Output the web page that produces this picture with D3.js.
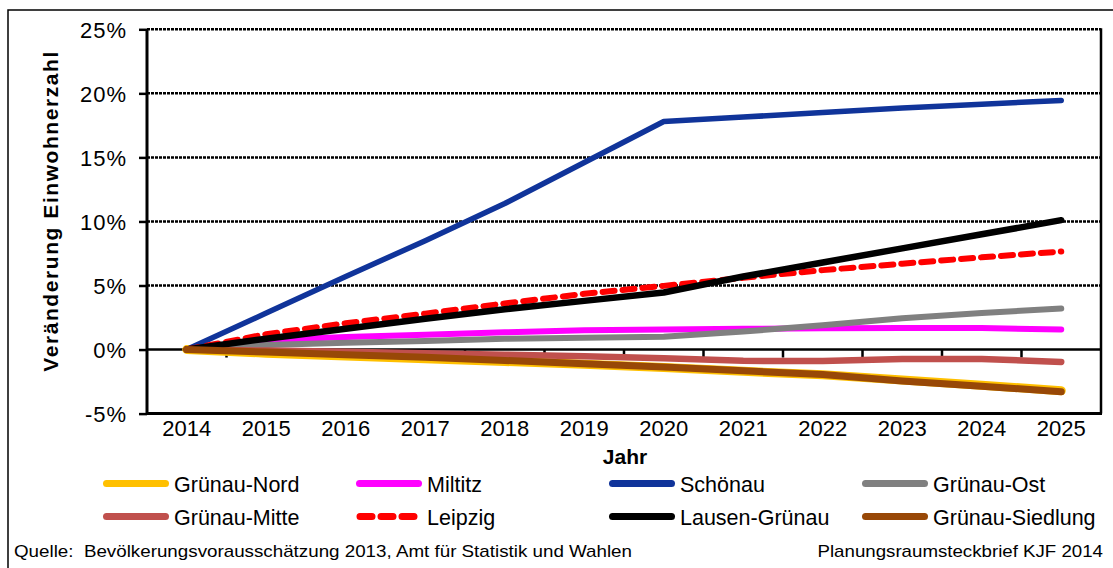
<!DOCTYPE html>
<html><head><meta charset="utf-8">
<script src="https://cdn.jsdelivr.net/npm/d3@7"></script>
<style>
html,body{margin:0;padding:0;background:#fff;}
svg{display:block;font-family:"Liberation Sans",Arial,sans-serif;}
</style></head>
<body><svg id="chart" width="1113" height="568"></svg>
<script>
const years = ["2014","2015","2016","2017","2018","2019","2020","2021","2022","2023","2024","2025"];
const yTicks = [-5,0,5,10,15,20,25];
const seriesNames = ["Grünau-Nord","Miltitz","Schönau","Grünau-Ost","Grünau-Mitte","Leipzig","Lausen-Grünau","Grünau-Siedlung"];
const gruenauNord     = [0,-0.28,-0.5,-0.72,-0.93,-1.15,-1.4,-1.7,-1.97,-2.38,-2.78,-3.22];
const miltitz         = [0,0.72,0.98,1.15,1.35,1.5,1.56,1.62,1.66,1.68,1.68,1.56];
const schoenau        = [0,2.85,5.7,8.5,11.4,14.6,17.8,18.15,18.5,18.85,19.15,19.45];
const gruenauOst      = [0,0.35,0.53,0.66,0.84,0.92,1.0,1.4,1.9,2.45,2.85,3.2];
const gruenauMitte    = [0,-0.08,-0.17,-0.28,-0.4,-0.53,-0.68,-0.88,-0.9,-0.74,-0.74,-0.97];
const leipzig         = [0,1.2,2.05,2.8,3.6,4.35,4.97,5.6,6.2,6.7,7.2,7.65];
const lausenGruenau   = [0,0.85,1.62,2.4,3.15,3.8,4.45,5.7,6.8,7.9,9.0,10.1];
const gruenauSiedlung = [0,-0.2,-0.4,-0.6,-0.85,-1.1,-1.36,-1.66,-1.95,-2.45,-2.86,-3.3];
const seriesValues = [gruenauNord,miltitz,schoenau,gruenauOst,gruenauMitte,leipzig,lausenGruenau,gruenauSiedlung];

const colors = ["#FFC000","#FF00FF","#10349A","#808080","#C0504D","#FF0000","#000000","#984807"];
const widths = [9,6,5.5,6,6.5,6,6.5,7];
const dashes = [null,null,null,null,null,"12,8",null,null];

const svg = d3.select("#chart");
const font = '"Liberation Sans",Arial,sans-serif';

// outer frame
svg.append("rect").attr("x",8).attr("y",10).attr("width",1200).attr("height",700)
  .attr("fill","none").attr("stroke","#000").attr("stroke-width",1.5);

const pLeft=147, pRight=1101, pTop=29.3, pBottom=413.6;
const x = d3.scaleBand().domain(years).range([pLeft,pRight]).padding(0);
const y = d3.scaleLinear().domain([-5,25]).range([pBottom,pTop]);
const cx = d => x(d)+x.bandwidth()/2;

// gridlines
svg.append("g").selectAll("line").data(yTicks.filter(t=>t!==0 && t!==-5)).join("line")
  .attr("x1",pLeft).attr("x2",pRight).attr("y1",d=>y(d)).attr("y2",d=>y(d))
  .attr("stroke","#000").attr("stroke-width",2.5).attr("stroke-dasharray","3,1");

// y axis
const yAxis = d3.axisLeft(y).tickValues(yTicks).tickFormat(d=>d+"%").tickSize(8).tickPadding(12);
const ga = svg.append("g").attr("transform",`translate(${pLeft},0)`).call(yAxis);
ga.select(".domain").remove();
ga.selectAll(".tick line").attr("stroke","#000").attr("stroke-width",2.5);
ga.selectAll(".tick text").attr("font-family",font).attr("font-size",22).attr("fill","#000")
  .attr("letter-spacing",1).attr("dy","0.36em");

// plot border: left, right, bottom solid
svg.append("line").attr("x1",pLeft).attr("x2",pLeft).attr("y1",pTop).attr("y2",pBottom).attr("stroke","#000").attr("stroke-width",3);
svg.append("line").attr("x1",pRight).attr("x2",pRight).attr("y1",pTop-1).attr("y2",pBottom).attr("stroke","#000").attr("stroke-width",2.5);
svg.append("line").attr("x1",pLeft).attr("x2",pRight+1).attr("y1",pBottom).attr("y2",pBottom).attr("stroke","#000").attr("stroke-width",3);

// x axis at 0 with ticks at category boundaries
svg.append("line").attr("x1",pLeft).attr("x2",pRight).attr("y1",y(0)).attr("y2",y(0)).attr("stroke","#000").attr("stroke-width",2.5);
svg.append("g").selectAll("line").data(years.slice(1)).join("line")
  .attr("x1",d=>x(d)).attr("x2",d=>x(d)).attr("y1",y(0)).attr("y2",y(0)+8)
  .attr("stroke","#000").attr("stroke-width",2.5);

// x labels at bottom
svg.append("g").selectAll("text").data(years).join("text")
  .attr("x",d=>cx(d)).attr("y",436).attr("text-anchor","middle")
  .attr("font-family",font).attr("font-size",22).attr("fill","#000").text(d=>d);

// lines
const line = d3.line().x((d,i)=>cx(years[i])).y(d=>y(d)).curve(d3.curveLinear);
seriesValues.forEach((vals,k)=>{
  const p = svg.append("path").datum(vals).attr("d",line).attr("fill","none")
    .attr("stroke",colors[k]).attr("stroke-width",widths[k])
    .attr("stroke-linecap","round").attr("stroke-linejoin","round");
  if(dashes[k]) p.attr("stroke-dasharray",dashes[k]).attr("stroke-linecap","round");
});

// axis titles
svg.append("text").attr("transform","translate(58,211.7) rotate(-90)")
  .attr("text-anchor","middle").attr("font-family",font).attr("font-weight","bold")
  .attr("font-size",21).attr("textLength",320).attr("lengthAdjust","spacing")
  .text("Veränderung Einwohnerzahl");
svg.append("text").attr("x",625).attr("y",464).attr("text-anchor","middle")
  .attr("font-family",font).attr("font-weight","bold").attr("font-size",21).text("Jahr");

// legend
const colX = [103,356,609,862];
const rowY = [483.5,516.5];
seriesNames.forEach((name,k)=>{
  const col = k%4, row = Math.floor(k/4);
  const g = svg.append("g").attr("transform",`translate(${colX[col]},${rowY[row]})`);
  const l = g.append("line").attr("x1",3.5).attr("x2",62.5).attr("y1",0).attr("y2",0)
    .attr("stroke",colors[k]).attr("stroke-width",7).attr("stroke-linecap","round");
  if(dashes[k]) l.attr("x1",4).attr("x2",62).attr("stroke-dasharray","12,9").attr("stroke-linecap","round");
  g.append("text").attr("x",71).attr("y",8.5).attr("font-family",font).attr("font-size",21.5)
    .attr("fill","#000").text(name);
});

// footer
svg.append("text").attr("x",14).attr("y",557).attr("font-family",font).attr("font-size",17)
  .attr("xml:space","preserve").style("white-space","pre")
  .attr("textLength",618).attr("lengthAdjust","spacingAndGlyphs")
  .text("Quelle:  Bevölkerungsvorausschätzung 2013, Amt für Statistik und Wahlen");
svg.append("text").attr("x",817.5).attr("y",557).attr("font-family",font).attr("font-size",17)
  .attr("textLength",285.5).attr("lengthAdjust","spacingAndGlyphs")
  .text("Planungsraumsteckbrief KJF 2014");
</script></body></html>
